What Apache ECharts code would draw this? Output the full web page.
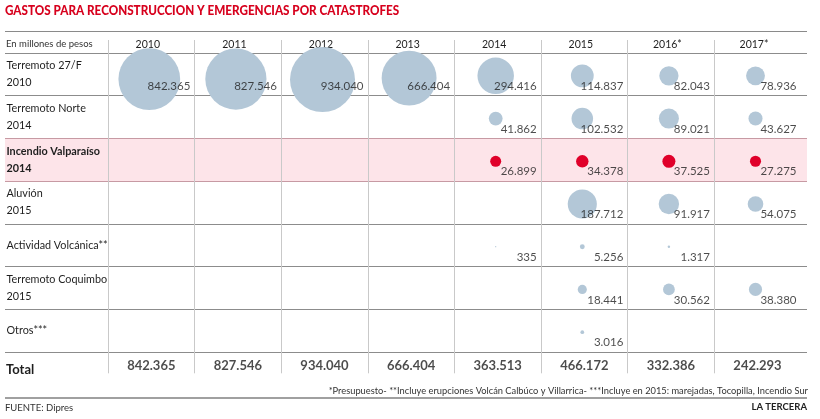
<!DOCTYPE html>
<html><head><meta charset="utf-8">
<script src="https://cdn.jsdelivr.net/npm/echarts@6/dist/echarts.min.js"></script>
<style>html,body{margin:0;padding:0;background:#fff}#c{width:820px;height:419px}</style>
</head><body><div id="c"></div>
<script>
const years = ['2010', '2011', '2012', '2013', '2014', '2015', '2016*', '2017*'];
const rowNames = ['Terremoto 27/F\n2010', 'Terremoto Norte\n2014', 'Incendio Valparaíso\n2014', 'Aluvión\n2015', 'Actividad Volcánica**', 'Terremoto Coquimbo\n2015', 'Otros***'];
// En millones de pesos
const terremoto27F = [842365, 827546, 934040, 666404, 294416, 114837, 82043, 78936];
const terremotoNorte = [null, null, null, null, 41862, 102532, 89021, 43627];
const incendioValparaiso = [null, null, null, null, 26899, 34378, 37525, 27275];
const aluvion = [null, null, null, null, null, 187712, 91917, 54075];
const actividadVolcanica = [null, null, null, null, 335, 5256, 1317, null];
const terremotoCoquimbo = [null, null, null, null, null, 18441, 30562, 38380];
const otros = [null, null, null, null, null, 3016, null, null];
const totals = [842365, 827546, 934040, 666404, 363513, 466172, 332386, 242293];

const rows = [terremoto27F, terremotoNorte, incendioValparaiso, aluvion, actividadVolcanica, terremotoCoquimbo, otros];
const HIGHLIGHT = 2;
const fmt = n => String(n).replace(/\B(?=(\d{3})+(?!\d))/g, '.');

const maxVal = Math.max(...rows.flat().filter(v => v != null));
const RMAX = 32.5;
const radius = v => RMAX * Math.sqrt(v / maxVal);

const allPts = [], bluePts = [], redPts = [];
rows.forEach((arr, r) => arr.forEach((v, i) => {
  if (v == null) return;
  const rr = radius(v);
  const item = {value: [i, r, v], symbolOffset: [-2, 1.5 + Math.max(0, rr - 20) * 0.3]};
  allPts.push([i, r, v]);
  (r === HIGHLIGHT ? redPts : bluePts).push(item);
}));
const sizeFn = val => 2 * radius(val[2]);

const FONT = 'Lato, "Open Sans", sans-serif';
const TXT = '#1e1e1e';
const NONE = 'rgba(0,0,0,0)';

const chart = echarts.init(document.getElementById('c'), null, {renderer: 'canvas'});
const colL = 108, colW = 86.6, gridW = colW * 8;
const OB = {outerBoundsMode: 'none', containLabel: false};

chart.setOption({
  animation: false,
  backgroundColor: '#fff',
  textStyle: {fontFamily: FONT},
  grid: [
    Object.assign({left: colL, width: gridW, top: 40, height: 333.3}, OB),   // column dividers
    Object.assign({left: 5, width: 802, top: 53, height: 299}, OB),          // row lines + labels
    Object.assign({left: colL, width: gridW, top: 53, height: 299}, OB),     // bubbles
    Object.assign({left: colL, width: gridW, top: 352, height: 21.3}, OB)    // totals row
  ],
  xAxis: [
    {gridIndex: 0, type: 'value', min: 0, max: 8, position: 'top', z: 1,
     axisLine: {show: false, onZero: false}, axisLabel: {show: false}, splitLine: {show: false},
     axisTick: {show: true, inside: true, length: 333.3, customValues: [0, 1, 2, 3, 4, 5, 6, 7],
                lineStyle: {color: '#c9c9c9', width: 1}}},
    {gridIndex: 1, type: 'value', min: 0, max: 1, show: false},
    {gridIndex: 2, type: 'category', data: years, position: 'top',
     axisLine: {show: false, onZero: false}, axisTick: {show: false}, splitLine: {show: false},
     axisLabel: {margin: 8.5, verticalAlign: 'middle', fontSize: 10.5, color: TXT, padding: [0, 7, 0, 0]}},
    {gridIndex: 3, type: 'category', data: years, show: false}
  ],
  yAxis: [
    {gridIndex: 0, type: 'value', min: 0, max: 1, show: false},
    {gridIndex: 1, type: 'category', data: rowNames, inverse: true,
     axisLine: {show: false, onZero: false}, axisTick: {show: false},
     axisLabel: {inside: true, align: 'left', margin: 1.5, lineHeight: 17,
       formatter: (v, i) => v.split('\n').map(s => '{' + (i === HIGHLIGHT ? 'b' : 'n') + '|' + s + '}').join('\n'),
       rich: {n: {fontSize: 10.8, color: TXT, lineHeight: 17, fontFamily: FONT},
              b: {fontSize: 10.8, color: TXT, lineHeight: 17, fontWeight: 'bold', fontFamily: FONT}}},
     splitLine: {show: true, lineStyle: {width: 1,
       color: ['#8c8c8c', '#8c8c8c', '#c79aa3', '#c79aa3', '#8c8c8c', '#8c8c8c', '#8c8c8c', '#8c8c8c']}},
     splitArea: {show: true, areaStyle: {
       color: [NONE, NONE, '#fde4e9', NONE, NONE, NONE, NONE]}}},
    {gridIndex: 2, type: 'category', data: rowNames, inverse: true, show: false},
    {gridIndex: 3, type: 'value', min: -1, max: 1, show: false}
  ],
  graphic: [
    {type: 'rect', silent: true, z: 10, shape: {x: 5, y: 31, width: 802, height: 1}, style: {fill: '#8a8a8a'}},
    {type: 'rect', silent: true, z: 10, shape: {x: 5, y: 397, width: 802, height: 2}, style: {fill: '#a0a0a0'}},
    {type: 'text', x: 5, y: 10.5, scaleX: 0.935, silent: true, style: {text: 'GASTOS PARA RECONSTRUCCION Y EMERGENCIAS POR CATASTROFES',
      font: '900 12.5px ' + FONT, fill: '#d7001d', textVerticalAlign: 'middle'}},
    {type: 'text', x: 6, y: 43.5, silent: true, style: {text: 'En millones de pesos', font: '9.5px ' + FONT, fill: '#333', textVerticalAlign: 'middle'}},
    {type: 'text', x: 6, y: 369.5, silent: true, style: {text: 'Total', font: 'bold 13px ' + FONT, fill: TXT, textVerticalAlign: 'middle'}},
    {type: 'text', x: 808, y: 391, silent: true, style: {text: '*Presupuesto- **Incluye erupciones Volcán Calbúco y Villarrica- ***Incluye en 2015: marejadas, Tocopilla, Incendio Sur',
      font: '9.3px ' + FONT, fill: '#333', textAlign: 'right', textVerticalAlign: 'middle'}},
    {type: 'text', x: 5, y: 407.5, silent: true, style: {text: 'FUENTE: Dipres', font: '9.5px ' + FONT, fill: '#333', textVerticalAlign: 'middle'}},
    {type: 'text', x: 807, y: 407, silent: true, style: {text: 'LA TERCERA', font: 'bold 9.5px ' + FONT, fill: '#222', textAlign: 'right', textVerticalAlign: 'middle'}}
  ],
  series: [
    {type: 'scatter', name: 'gastos', xAxisIndex: 2, yAxisIndex: 2, data: bluePts, symbolSize: sizeFn,
     itemStyle: {color: '#b3c7d7', opacity: 1}, silent: true},
    {type: 'scatter', name: 'incendio', xAxisIndex: 2, yAxisIndex: 2, data: redPts, symbolSize: sizeFn,
     itemStyle: {color: '#e0002a', opacity: 1}, silent: true},
    {type: 'scatter', name: 'valores', xAxisIndex: 2, yAxisIndex: 2, data: allPts, symbolSize: 1, z: 3,
     itemStyle: {color: NONE}, silent: true,
     label: {show: true, position: 'inside', align: 'right', verticalAlign: 'middle', offset: [39, 12],
       formatter: p => fmt(p.value[2]), fontSize: 11.5, color: TXT, fontFamily: FONT}},
    {type: 'scatter', name: 'total', xAxisIndex: 3, yAxisIndex: 3, data: totals.map((t, i) => [i, 0, t]),
     symbolSize: 1, itemStyle: {color: NONE}, silent: true,
     label: {show: true, position: 'inside', align: 'center', verticalAlign: 'middle', offset: [0, 3.5],
       formatter: p => fmt(p.value[2]), fontSize: 13, fontWeight: 'bold', color: TXT, fontFamily: FONT}}
  ]
});
</script>
</body></html>
